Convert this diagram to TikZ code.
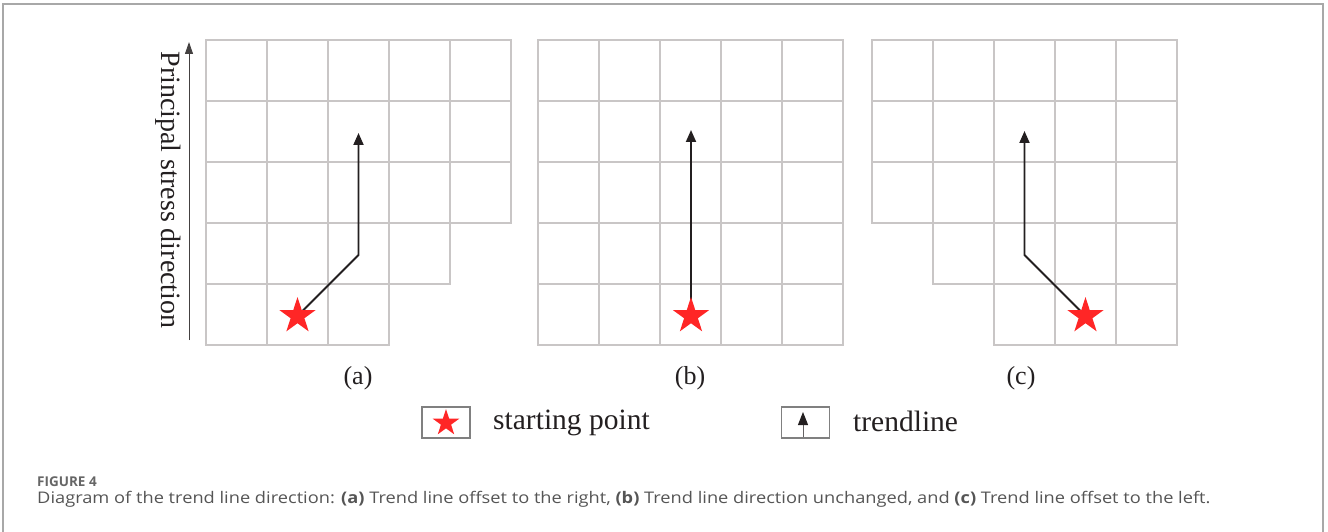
\documentclass[tikz,border=0pt]{standalone}
\usepackage{fontspec}
\setmainfont{Liberation Serif}
\newfontfamily\capfont{Open Sans}
\usetikzlibrary{shapes.geometric,arrows.meta}
\definecolor{gridc}{HTML}{C9C6C6}
\definecolor{inkc}{HTML}{231F20}
\definecolor{starc}{HTML}{FF2626}
\definecolor{framec}{HTML}{A8A8A8}
\definecolor{capc}{HTML}{555555}
\begin{document}
\begin{tikzpicture}[x=1pt,y=-1pt,
  gridline/.style={draw=gridc,line width=1.8pt},
  trend/.style={draw=inkc,line width=1.9pt,-{Triangle[length=12pt,width=10pt]}},
  redstar/.style={star,star points=5,star point ratio=2.618,fill=starc,draw=none,minimum size=38pt,inner sep=0pt},
  lbl/.style={text=inkc,font=\fontsize{26}{28}\selectfont,inner sep=0pt},
  legtext/.style={text=inkc,font=\fontsize{29.5}{31}\selectfont,inner sep=0pt,anchor=base west},
  legbox/.style={draw=gray,line width=1.2pt,minimum width=48pt,minimum height=31pt,inner sep=0pt},
  capt/.style={text=capc,inner sep=0pt,anchor=base west}]
\useasboundingbox (0,0) rectangle (1328,532);
% frame
\draw[framec,line width=1.2pt] (3,532) -- (3,4) -- (1323,4) -- (1323,532);
% grid (a)
\foreach \r/\n in {0/4,1/4,2/4,3/3,4/2}
  \foreach \c in {0,...,\n}
    \draw[gridline] ({206+61*\c},{40+61*\r}) rectangle ++(61,61);
% grid (b)
\foreach \r in {0,...,4}
  \foreach \c in {0,...,4}
    \draw[gridline] ({538+61*\c},{40+61*\r}) rectangle ++(61,61);
% grid (c)
\foreach \r/\s in {0/0,1/0,2/0,3/1,4/2}
  \foreach \c in {\s,...,4}
    \draw[gridline] ({872+61*\c},{40+61*\r}) rectangle ++(61,61);
% axis
\coordinate (axb) at (189,340);
\coordinate (axt) at (189,42);
\draw[draw=inkc!85,line width=1pt,-{Triangle[length=12pt,width=8pt]}] (axb) -- (axt);
\node[lbl,font=\fontsize{28}{30}\selectfont,rotate=-90] (axlabel) at (168,190) {Principal stress direction};
% trend lines
\coordinate (sa) at (297.5,316);
\coordinate (ba) at (358.5,255);
\coordinate (ta) at (358.5,133);
\coordinate (sb) at (691,316);
\coordinate (tb) at (691,130);
\coordinate (sc) at (1085.5,316);
\coordinate (bc) at (1024.5,255);
\coordinate (tc) at (1024.5,131);
\draw[trend] (sa) -- (ba) -- (ta);
\draw[trend] (sb) -- (tb);
\draw[trend] (sc) -- (bc) -- (tc);
\node[redstar] (stara) at (sa) {};
\node[redstar] (starb) at (sb) {};
\node[redstar] (starc) at (sc) {};
% sub labels
\node[lbl] (la) at (358,378) {(a)};
\node[lbl] (lb) at (690,378) {(b)};
\node[lbl] (lc) at (1021,378) {(c)};
% legend
\node[legbox] (box1) at (446,422.5) {};
\node[redstar,minimum size=28pt] (legstar) at (446,423) {};
\node[legtext] (t1) at (493,429) {starting point};
\node[legbox] (box2) at (805.5,422.5) {};
\coordinate (lab) at (803,437);
\coordinate (lat) at (803,412);
\draw[draw=inkc!70,line width=1pt,-{Triangle[length=13pt,width=10pt,color=inkc]}] (lab) -- (lat);
\node[legtext] (t2) at (853,431) {trendline};
% caption
\node[capt,font=\capfont\bfseries\fontsize{13.5}{15}\selectfont,text=capc!90] (fig) at (37,486) {FIGURE 4};
\node[capt,font=\capfont\fontsize{16}{18}\selectfont,xscale=1.14] (cap) at (37,503) {Diagram of the trend line direction: \textbf{(a)} Trend line offset to the right, \textbf{(b)} Trend line direction unchanged, and \textbf{(c)} Trend line offset to the left.};
\end{tikzpicture}
\end{document}
